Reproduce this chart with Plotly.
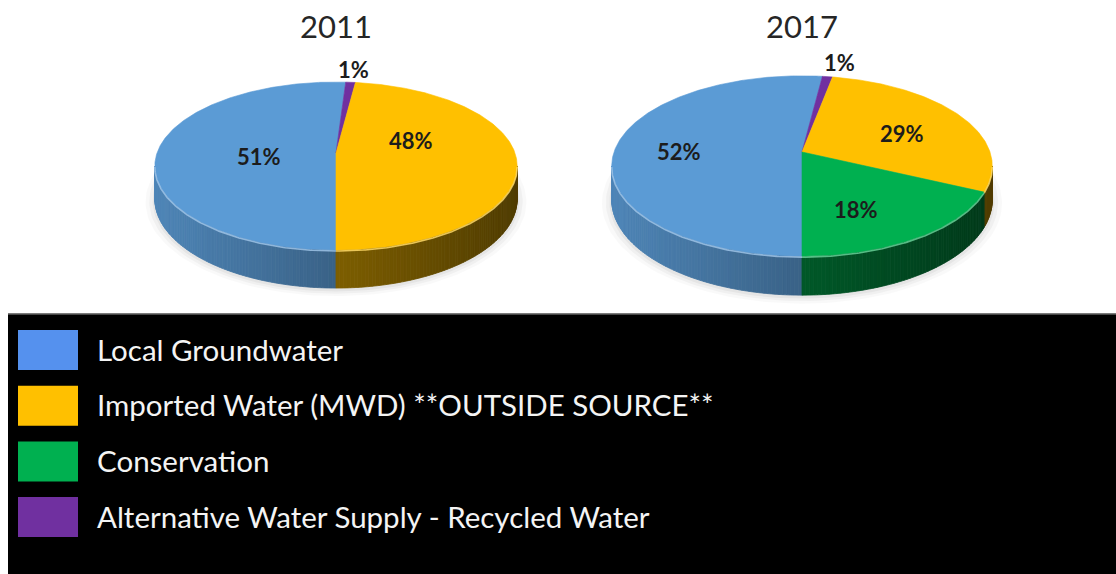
import numpy as np
import plotly.graph_objects as go

# ---- data -------------------------------------------------------------
categories = [
    "Local Groundwater",
    "Imported Water (MWD) **OUTSIDE SOURCE**",
    "Conservation",
    "Alternative Water Supply - Recycled Water",
]
years = ["2011", "2017"]
share_2011 = [51, 48, 0, 1]   # percent, same order as categories
share_2017 = [52, 29, 18, 1]

# ---- styling ----------------------------------------------------------
top_colors = ["#5b9bd5", "#ffc000", "#00b050", "#7030a0"]
legend_colors = ["#5591ee", "#ffc000", "#00b050", "#7030a0"]
side_tone = [1.0, 0.78, 0.8, 0.8]

# slices run clockwise from the bottom of each pie in this category order
slice_order = [0, 3, 1, 2]
start_deg = 180.0

# perspective disc: centre, half width, half height factor, perspective, thickness
pie_geometry = {
    "2011": dict(cx=336, cy=153, a=179, k=82, p=0.155, depth=38),
    "2017": dict(cx=802, cy=152, a=188, k=88, p=0.155, depth=39),
}
# label radius (fraction of pie radius) and pixel nudges per category
label_style = {
    "2011": dict(r=[0.43, 0.42, 0.5, 1.22], dx=[0, 0, 0, 0], dy=[5, -15, 0, 0]),
    "2017": dict(r=[0.66, 0.62, 0.50, 1.25], dx=[0, 0, 0, 7], dy=[3, 5, 18, 2]),
}

W, H = 1116, 574
TEXT_FONT = "Lato"


def hex_to_rgb(h):
    h = h.lstrip("#")
    return np.array([int(h[i:i + 2], 16) for i in (0, 2, 4)], dtype=float)


def rgb_str(c, alpha=None):
    c = np.clip(np.round(c), 0, 255).astype(int)
    if alpha is None:
        return f"rgb({c[0]},{c[1]},{c[2]})"
    return f"rgba({c[0]},{c[1]},{c[2]},{alpha})"


def project(geo, theta_deg, r=1.0, drop=0.0):
    """Screen position of a point on the tilted disc (theta clockwise from top)."""
    t = np.radians(theta_deg)
    u, v = np.sin(t), np.cos(t)
    s = 1.0 / (1.0 + geo["p"] * r * v)
    x = geo["cx"] + geo["a"] * r * u * s
    y = geo["cy"] - geo["k"] * r * v * s + drop * geo["depth"] * (1 - geo["p"]) * s
    return x, y


def arc(geo, t0, t1, step=0.5, r=1.0, drop=0.0):
    n = max(2, int(np.ceil(abs(t1 - t0) / step)) + 1)
    th = np.linspace(t0, t1, n)
    return project(geo, th, r, drop)


fig = go.Figure()
shapes = []
annotations = []

for year, shares in zip(years, [share_2011, share_2017]):
    geo = pie_geometry[year]
    p = geo["p"]
    half_w = geo["a"] / np.sqrt(1 - p * p)
    x_left = geo["cx"] - half_w

    # slice angle ranges
    spans = []
    t = start_deg
    for ci in slice_order:
        sweep = shares[ci] / 100.0 * 360.0
        if sweep > 0:
            spans.append((ci, t, t + sweep))
        t += sweep

    # soft shadow under the disc
    for grow, alpha in [(1.05, 0.025), (1.03, 0.035), (1.012, 0.045)]:
        sx, sy = arc(geo, 0, 360, step=2, r=grow, drop=1.05)
        fig.add_trace(go.Scatter(x=sx, y=sy, fill="toself", mode="lines",
                                 line=dict(width=0), fillcolor=f"rgba(0,0,0,{alpha})",
                                 hoverinfo="skip"))

    # visible front wall: between the two horizontal extremes
    ta = np.degrees(np.arccos(-p))
    tb = 360.0 - ta
    for ci, t0, t1 in spans:
        base = hex_to_rgb(top_colors[ci]) * side_tone[ci]
        for shift in (0.0, 360.0):
            a0, a1 = max(t0, ta + shift), min(t1, tb + shift)
            if a1 <= a0:
                continue
            n = max(1, int(np.ceil((a1 - a0) / 1.0)))
            edges = np.linspace(a0, a1, n + 1)
            for e0, e1 in zip(edges[:-1], edges[1:]):
                xt0, yt0 = project(geo, e0)
                xt1, yt1 = project(geo, e1)
                xb1, yb1 = project(geo, e1, drop=1.0)
                xb0, yb0 = project(geo, e0, drop=1.0)
                xn = ((xt0 + xt1) / 2 - x_left) / (2 * half_w)
                shade = 0.86 - 0.46 * xn
                col = rgb_str(base * shade)
                fig.add_trace(go.Scatter(
                    x=[xt0, xt1, xb1, xb0, xt0], y=[yt0, yt1, yb1, yb0, yt0],
                    fill="toself", mode="lines", line=dict(width=0.8, color=col),
                    fillcolor=col, hoverinfo="skip"))

    # top faces
    for ci, t0, t1 in spans:
        ax, ay = arc(geo, t0, t1)
        px = np.concatenate([[geo["cx"]], ax, [geo["cx"]]])
        py = np.concatenate([[geo["cy"]], ay, [geo["cy"]]])
        fig.add_trace(go.Scatter(x=px, y=py, fill="toself", mode="lines",
                                 line=dict(width=0.6, color=top_colors[ci]),
                                 fillcolor=top_colors[ci], hoverinfo="skip"))

    # light rim along the front edge of the top face
    for ci, t0, t1 in spans:
        light = hex_to_rgb(top_colors[ci]) * 0.6 + 255 * 0.4
        for shift in (0.0, 360.0):
            a0, a1 = max(t0, ta + shift), min(t1, tb + shift)
            if a1 <= a0:
                continue
            rx, ry = arc(geo, a0, a1)
            fig.add_trace(go.Scatter(x=rx, y=ry + 1.0, mode="lines",
                                     line=dict(width=1.6, color=rgb_str(light, 0.85)),
                                     hoverinfo="skip"))

    # percentage labels
    ls = label_style[year]
    for ci, t0, t1 in spans:
        lx, ly = project(geo, (t0 + t1) / 2.0, r=ls["r"][ci])
        annotations.append(dict(
            x=float(lx) + ls["dx"][ci], y=float(ly) + ls["dy"][ci],
            xref="x", yref="y", text=f"<b>{shares[ci]}%</b>", showarrow=False,
            xanchor="center", yanchor="middle",
            font=dict(family=TEXT_FONT, size=22, color="#1c1c1c")))

    # year title above the pie
    annotations.append(dict(
        x=geo["cx"], y=26, xref="x", yref="y", text=year, showarrow=False,
        xanchor="center", yanchor="middle",
        font=dict(family=TEXT_FONT, size=31, color="#262626")))

# ---- legend panel ------------------------------------------------------
shapes.append(dict(type="rect", xref="x", yref="y", x0=8, x1=W + 2, y0=314, y1=H + 2,
                   fillcolor="#000000", line=dict(width=0), layer="below"))
shapes.append(dict(type="line", xref="x", yref="y", x0=8, x1=W + 2, y0=314, y1=314,
                   line=dict(color="rgba(90,90,90,0.8)", width=2)))

row_top, row_step = 349.0, 55.7
for i, name in enumerate(categories):
    yc = row_top + i * row_step
    shapes.append(dict(type="rect", xref="x", yref="y", x0=18, x1=78,
                       y0=yc - 19, y1=yc + 21, fillcolor=legend_colors[i],
                       line=dict(width=0)))
    annotations.append(dict(
        x=95, y=yc, xref="x", yref="y", text=name, showarrow=False,
        xanchor="left", yanchor="middle",
        font=dict(family=TEXT_FONT, size=29.5, color="#f4f4f4")))

fig.update_layout(
    width=W, height=H,
    margin=dict(l=0, r=0, t=0, b=0),
    paper_bgcolor="#ffffff", plot_bgcolor="#ffffff",
    showlegend=False,
    xaxis=dict(range=[0, W], visible=False, fixedrange=True),
    yaxis=dict(range=[H, 0], visible=False, fixedrange=True),
    shapes=shapes, annotations=annotations,
)

fig.write_html("out.html")
